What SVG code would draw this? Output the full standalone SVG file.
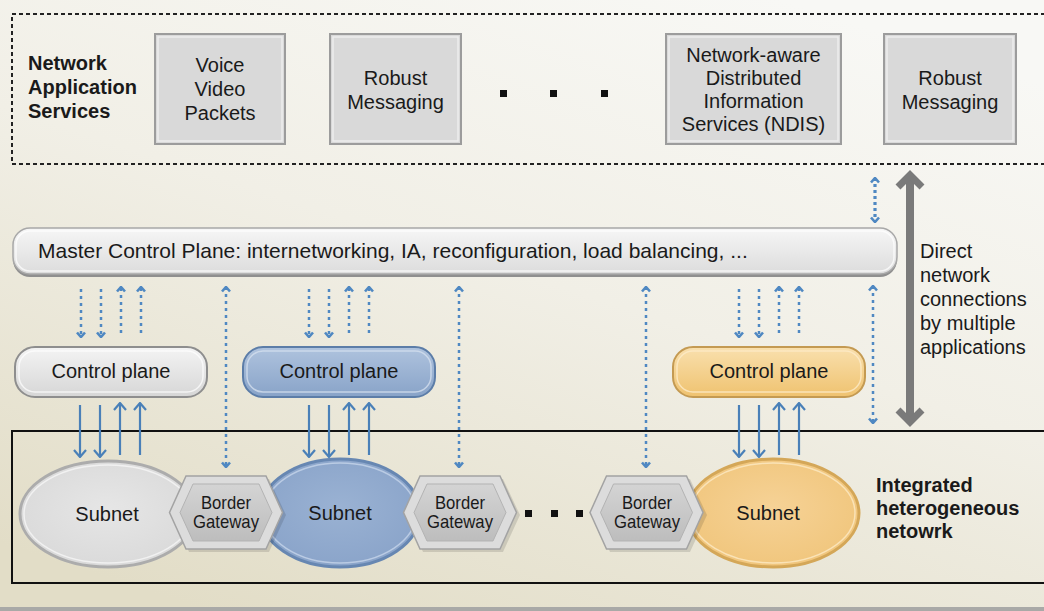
<svg xmlns="http://www.w3.org/2000/svg" width="1044" height="611" viewBox="0 0 1044 611">
<defs>
<linearGradient id="bg" x1="0.75" y1="0" x2="0.2" y2="1">
<stop offset="0" stop-color="#f8f8f5"/><stop offset="0.45" stop-color="#f1efe6"/><stop offset="1" stop-color="#e2ddc7"/>
</linearGradient>
<linearGradient id="gGray" x1="0" y1="0" x2="0" y2="1"><stop offset="0" stop-color="#f4f4f4"/><stop offset="1" stop-color="#d6d6d6"/></linearGradient>
<linearGradient id="gBlue" x1="0" y1="0" x2="0" y2="1"><stop offset="0" stop-color="#afc3de"/><stop offset="1" stop-color="#88a3c8"/></linearGradient>
<linearGradient id="gOrange" x1="0" y1="0" x2="0" y2="1"><stop offset="0" stop-color="#f9e0ae"/><stop offset="1" stop-color="#efc26f"/></linearGradient>
<linearGradient id="gMaster" x1="0" y1="0" x2="0" y2="1"><stop offset="0" stop-color="#f6f6f6"/><stop offset="1" stop-color="#dcdcdc"/></linearGradient>
<linearGradient id="gHex" x1="0" y1="0" x2="0" y2="1"><stop offset="0" stop-color="#d4d4d4"/><stop offset="1" stop-color="#bdbdbd"/></linearGradient>
<radialGradient id="rGray" cx="0.5" cy="0.45" r="0.6"><stop offset="0" stop-color="#e6e6e6"/><stop offset="1" stop-color="#d9d9d9"/></radialGradient>
<radialGradient id="rBlue" cx="0.5" cy="0.45" r="0.6"><stop offset="0" stop-color="#9ab2d3"/><stop offset="1" stop-color="#89a3c9"/></radialGradient>
<radialGradient id="rOrange" cx="0.5" cy="0.45" r="0.6"><stop offset="0" stop-color="#f6d296"/><stop offset="1" stop-color="#f0c57b"/></radialGradient>
<marker id="dh" viewBox="0 0 10 10" refX="9" refY="5" markerWidth="10" markerHeight="10" markerUnits="userSpaceOnUse" orient="auto-start-reverse">
<path d="M4.5,1 L9,5 L4.5,9" fill="none" stroke="#4f88c2" stroke-width="2.6"/>
</marker>
<marker id="sh" viewBox="0 0 12 14" refX="11" refY="7" markerWidth="12" markerHeight="14" markerUnits="userSpaceOnUse" orient="auto-start-reverse">
<path d="M4,1 L11,7 L4,13" fill="none" stroke="#4a80b8" stroke-width="2.2"/>
</marker>
<style>
text{font-family:"Liberation Sans",Arial,sans-serif;fill:#1a1a1a}
.t20{font-size:20px}
.b20{font-size:20px;font-weight:bold}
.mid{text-anchor:middle}
.gw{font-size:19px}
.svc{fill:#d9d9d9;stroke:#9c9c9c;stroke-width:2}
.svcIn{fill:none;stroke:#ededed;stroke-width:1.5}
.dot{stroke:#4f88c2;stroke-width:2.5;stroke-dasharray:3 4;fill:none}
.sol{stroke:#4a80b8;stroke-width:2.2;fill:none}
.hexO{fill:#dcdcdc;stroke:#a3a3a3;stroke-width:1.5}
.hexI{fill:url(#gHex);stroke:#b3b3b3;stroke-width:1}
.sq{fill:#111}
</style>
</defs>

<rect x="0" y="0" width="1044" height="611" fill="url(#bg)"/>
<rect x="0" y="607" width="1044" height="4" fill="#a9a9a7"/>

<g id="services-region">
<rect x="12" y="14" width="1040" height="150" fill="none" stroke="#222" stroke-width="2" stroke-dasharray="4 3"/>
<text class="b20" x="28" y="70">Network</text>
<text class="b20" x="28" y="94">Application</text>
<text class="b20" x="28" y="118">Services</text>
</g>

<g id="svc-voice">
<rect class="svc" x="155" y="34" width="130" height="110"/>
<rect class="svcIn" x="158" y="37" width="124" height="104"/>
<text class="t20 mid" x="220" y="72">Voice</text>
<text class="t20 mid" x="220" y="96">Video</text>
<text class="t20 mid" x="220" y="120">Packets</text>
</g>
<g id="svc-robust1">
<rect class="svc" x="330" y="34" width="131" height="110"/>
<rect class="svcIn" x="333" y="37" width="125" height="104"/>
<text class="t20 mid" x="395.5" y="85">Robust</text>
<text class="t20 mid" x="395.5" y="109">Messaging</text>
</g>
<g id="top-dots">
<rect class="sq" x="500" y="90" width="7" height="7"/>
<rect class="sq" x="550" y="90" width="7" height="7"/>
<rect class="sq" x="601" y="90" width="7" height="7"/>
</g>
<g id="svc-ndis">
<rect class="svc" x="666" y="34" width="175" height="110"/>
<rect class="svcIn" x="669" y="37" width="169" height="104"/>
<text class="t20 mid" x="753.5" y="62">Network-aware</text>
<text class="t20 mid" x="753.5" y="85">Distributed</text>
<text class="t20 mid" x="753.5" y="108">Information</text>
<text class="t20 mid" x="753.5" y="131">Services (NDIS)</text>
</g>
<g id="svc-robust2">
<rect class="svc" x="884" y="34" width="132" height="110"/>
<rect class="svcIn" x="887" y="37" width="126" height="104"/>
<text class="t20 mid" x="950" y="85">Robust</text>
<text class="t20 mid" x="950" y="109">Messaging</text>
</g>

<g id="master-control-plane">
<rect x="13" y="230" width="884" height="47" rx="17" fill="#8f8f8f"/>
<rect x="13" y="228" width="884" height="46" rx="17" fill="url(#gMaster)" stroke="#a8a8a8" stroke-width="1.5"/>
<rect x="16" y="231" width="878" height="40" rx="14" fill="none" stroke="#ffffff" stroke-opacity="0.7" stroke-width="1.5"/>
<text x="38" y="258" style="font-size:21px">Master Control Plane: internetworking, IA, reconfiguration, load balancing, ...</text>
</g>

<g id="cp-gray">
<rect x="15" y="347" width="192" height="50" rx="20" fill="url(#gGray)" stroke="#8e8e8e" stroke-width="2"/>
<rect x="19" y="351" width="184" height="41" rx="16" fill="none" stroke="#ffffff" stroke-opacity="0.7" stroke-width="1.5"/>
<text class="t20 mid" x="111" y="378">Control plane</text>
</g>
<g id="cp-blue">
<rect x="243" y="347" width="192" height="50" rx="20" fill="url(#gBlue)" stroke="#5c7da8" stroke-width="2"/>
<rect x="247" y="351" width="184" height="41" rx="16" fill="none" stroke="#d3dfee" stroke-opacity="0.8" stroke-width="1.5"/>
<text class="t20 mid" x="339" y="378">Control plane</text>
</g>
<g id="cp-orange">
<rect x="673" y="347" width="192" height="50" rx="20" fill="url(#gOrange)" stroke="#c49a52" stroke-width="2"/>
<rect x="677" y="351" width="184" height="41" rx="16" fill="none" stroke="#fcebc8" stroke-opacity="0.8" stroke-width="1.5"/>
<text class="t20 mid" x="769" y="378">Control plane</text>
</g>

<g id="network-frame">
<rect x="12" y="431" width="1040" height="152" fill="none" stroke="#111" stroke-width="2"/>
<text class="b20" x="876" y="492">Integrated</text>
<text class="b20" x="876" y="515">heterogeneous</text>
<text class="b20" x="876" y="538">netowrk</text>
</g>

<g id="subnet-gray">
<ellipse cx="108" cy="514" rx="88" ry="53" fill="url(#rGray)" stroke="#acacac" stroke-width="3"/>
<ellipse cx="108" cy="514" rx="84" ry="49" fill="none" stroke="#ffffff" stroke-opacity="0.6" stroke-width="1.5"/>
<text class="t20 mid" x="107" y="521">Subnet</text>
</g>
<g id="subnet-blue">
<ellipse cx="340" cy="513" rx="80" ry="54" fill="url(#rBlue)" stroke="#6787b2" stroke-width="3"/>
<ellipse cx="340" cy="513" rx="76" ry="50" fill="none" stroke="#c6d5ea" stroke-opacity="0.8" stroke-width="1.5"/>
<text class="t20 mid" x="340" y="520">Subnet</text>
</g>
<g id="subnet-orange">
<ellipse cx="773" cy="513" rx="86" ry="54" fill="url(#rOrange)" stroke="#d4a758" stroke-width="3"/>
<ellipse cx="773" cy="513" rx="82" ry="50" fill="none" stroke="#fbe6bd" stroke-opacity="0.9" stroke-width="1.5"/>
<text class="t20 mid" x="768" y="520">Subnet</text>
</g>

<g id="gateway-1">
<polygon points="173,515 189,479 269,479 286,515 269,552 189,552" fill="#000" opacity="0.12"/>
<polygon class="hexO" points="169.5,512.5 186,476 266,476 282.5,512.5 266,549 186,549"/>
<polygon class="hexI" points="180,512.5 193,484 259,484 272,512.5 259,541 193,541"/>
<text class="gw mid" x="226" y="509" textLength="50" lengthAdjust="spacingAndGlyphs">Border</text>
<text class="gw mid" x="226" y="528" textLength="66" lengthAdjust="spacingAndGlyphs">Gateway</text>
</g>
<g id="gateway-2">
<polygon points="407,515 423,479 503,479 520,515 503,552 423,552" fill="#000" opacity="0.12"/>
<polygon class="hexO" points="403.5,512.5 420,476 500,476 516.5,512.5 500,549 420,549"/>
<polygon class="hexI" points="414,512.5 427,484 493,484 506,512.5 493,541 427,541"/>
<text class="gw mid" x="460" y="509" textLength="50" lengthAdjust="spacingAndGlyphs">Border</text>
<text class="gw mid" x="460" y="528" textLength="66" lengthAdjust="spacingAndGlyphs">Gateway</text>
</g>
<g id="bottom-dots">
<rect class="sq" x="525" y="510" width="7" height="7"/>
<rect class="sq" x="551" y="510" width="7" height="7"/>
<rect class="sq" x="576" y="510" width="7" height="7"/>
</g>
<g id="gateway-3">
<polygon points="594,515 610,479 690,479 707,515 690,552 610,552" fill="#000" opacity="0.12"/>
<polygon class="hexO" points="590,512.5 606.5,476 686.5,476 703,512.5 686.5,549 606.5,549"/>
<polygon class="hexI" points="600.5,512.5 613.5,484 679.5,484 692.5,512.5 679.5,541 613.5,541"/>
<text class="gw mid" x="647" y="509" textLength="50" lengthAdjust="spacingAndGlyphs">Border</text>
<text class="gw mid" x="647" y="528" textLength="66" lengthAdjust="spacingAndGlyphs">Gateway</text>
</g>

<g id="direct-label">
<text class="t20" x="920" y="258">Direct</text>
<text class="t20" x="920" y="282">network</text>
<text class="t20" x="920" y="306">connections</text>
<text class="t20" x="920" y="330">by multiple</text>
<text class="t20" x="920" y="354">applications</text>
</g>

<g id="connectors">
<line class="dot" x1="81" y1="289" x2="81" y2="337" marker-end="url(#dh)"/>
<line class="dot" x1="101" y1="289" x2="101" y2="337" marker-end="url(#dh)"/>
<line class="dot" x1="121" y1="333" x2="121" y2="287" marker-end="url(#dh)"/>
<line class="dot" x1="141" y1="333" x2="141" y2="287" marker-end="url(#dh)"/>
<line class="dot" x1="309" y1="289" x2="309" y2="337" marker-end="url(#dh)"/>
<line class="dot" x1="329" y1="289" x2="329" y2="337" marker-end="url(#dh)"/>
<line class="dot" x1="349" y1="333" x2="349" y2="287" marker-end="url(#dh)"/>
<line class="dot" x1="369" y1="333" x2="369" y2="287" marker-end="url(#dh)"/>
<line class="dot" x1="739" y1="289" x2="739" y2="337" marker-end="url(#dh)"/>
<line class="dot" x1="759" y1="289" x2="759" y2="337" marker-end="url(#dh)"/>
<line class="dot" x1="779" y1="333" x2="779" y2="287" marker-end="url(#dh)"/>
<line class="dot" x1="799" y1="333" x2="799" y2="287" marker-end="url(#dh)"/>
<line class="dot" x1="226" y1="287" x2="226" y2="467" marker-start="url(#dh)" marker-end="url(#dh)"/>
<line class="dot" x1="459" y1="287" x2="459" y2="467" marker-start="url(#dh)" marker-end="url(#dh)"/>
<line class="dot" x1="646" y1="287" x2="646" y2="467" marker-start="url(#dh)" marker-end="url(#dh)"/>
<line class="dot" x1="873" y1="286" x2="873" y2="423" marker-start="url(#dh)" marker-end="url(#dh)"/>
<line class="dot" x1="875" y1="178" x2="875" y2="222" style="stroke-width:3.2;stroke-dasharray:3 3" marker-start="url(#dh)" marker-end="url(#dh)"/>
<line class="sol" x1="80" y1="405" x2="80" y2="457" marker-end="url(#sh)"/>
<line class="sol" x1="100" y1="405" x2="100" y2="457" marker-end="url(#sh)"/>
<line class="sol" x1="120" y1="455" x2="120" y2="403" marker-end="url(#sh)"/>
<line class="sol" x1="140" y1="455" x2="140" y2="403" marker-end="url(#sh)"/>
<line class="sol" x1="309" y1="405" x2="309" y2="457" marker-end="url(#sh)"/>
<line class="sol" x1="329" y1="405" x2="329" y2="457" marker-end="url(#sh)"/>
<line class="sol" x1="349" y1="455" x2="349" y2="403" marker-end="url(#sh)"/>
<line class="sol" x1="369" y1="455" x2="369" y2="403" marker-end="url(#sh)"/>
<line class="sol" x1="739" y1="405" x2="739" y2="457" marker-end="url(#sh)"/>
<line class="sol" x1="759" y1="405" x2="759" y2="457" marker-end="url(#sh)"/>
<line class="sol" x1="779" y1="455" x2="779" y2="403" marker-end="url(#sh)"/>
<line class="sol" x1="799" y1="455" x2="799" y2="403" marker-end="url(#sh)"/>
<line x1="910" y1="177" x2="910" y2="420" stroke="#7a7a7a" stroke-width="8"/>
<path d="M898,187 L910,175 L922,187" fill="none" stroke="#7a7a7a" stroke-width="7"/>
<path d="M898,410 L910,422 L922,410" fill="none" stroke="#7a7a7a" stroke-width="7"/>
</g>
</svg>
